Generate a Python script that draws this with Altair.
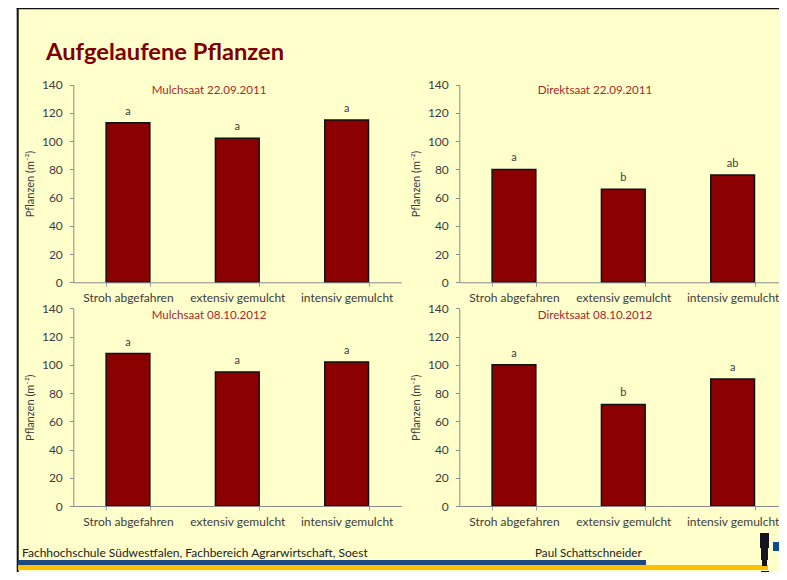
import altair as alt
import pandas as pd

categories = ["Stroh abgefahren", "extensiv gemulcht", "intensiv gemulcht"]
panel_titles = ["Mulchsaat 22.09.2011", "Direktsaat 22.09.2011", "Mulchsaat 08.10.2012", "Direktsaat 08.10.2012"]
values = [[113, 102, 115], [80, 66, 76], [108, 95, 102], [100, 72, 90]]
letters = [["a", "a", "a"], ["a", "b", "ab"], ["a", "a", "a"], ["a", "b", "a"]]
y_ticks = [0, 20, 40, 60, 80, 100, 120, 140]
heading = "Aufgelaufene Pflanzen"
footer_left = "Fachhochschule Südwestfalen, Fachbereich Agrarwirtschaft, Soest"
footer_right = "Paul Schattschneider"
y_title = "Pflanzen (m⁻²)"

W, H = 771, 564
FONT = "Lato"
TEXT = "#3c3c3c"
BAR = "#8B0000"
# panel layout in chart pixels: axis x, zero y, title x, title y
layout = [(65.3, 274.3, 201, 83), (451.3, 274.3, 587, 83), (65.3, 498, 201, 308), (451.3, 498, 587, 308)]
one = pd.DataFrame({"k": [0]})


def box(x, x2, y, y2, color):
    return alt.Chart(one).mark_rect(color=color).encode(
        x=alt.value(x), x2=alt.value(x2), y=alt.value(y), y2=alt.value(y2))


def label(txt, x, y, size, color, align="center", weight="normal"):
    return alt.Chart(pd.DataFrame({"t": [txt]})).mark_text(
        font=FONT, fontSize=size, color=color, align=align, baseline="middle", fontWeight=weight
    ).encode(x=alt.value(x), y=alt.value(y), text="t:N")


layers = [
    box(10, W, 0, H, "#FFFFCC"),
    box(8.7, 10.7, 0, H, "#111111"),
    box(8.7, W, 0, 1.2, "#111111"),
]

for i, (ax, y0, tx, ty) in enumerate(layout):
    df = pd.DataFrame({"cat": categories, "val": values[i], "let": letters[i]})
    xs = alt.Scale(domain=categories, range=[ax, ax + 328], paddingInner=0.6, paddingOuter=0.3)
    ys = alt.Scale(domain=[0, 140], range=[y0, y0 - 197.6], nice=False)
    bars = alt.Chart(df).mark_bar(color=BAR, stroke="#111111", strokeWidth=1.5).encode(
        x=alt.X("cat:N", scale=xs, sort=categories, title=None, axis=alt.Axis(
            orient="bottom", offset=y0 - H, labelAngle=0, tickBand="extent", tickSize=4, labelPadding=6,
            labelFont=FONT, labelFontSize=12, labelColor=TEXT, domainColor="#8a8a8a", tickColor="#a0a0a0",
            grid=False, zindex=1, labelOverlap=False)),
        y=alt.Y("val:Q", scale=ys, title=y_title, axis=alt.Axis(
            orient="left", offset=-ax, values=y_ticks, tickSize=4, labelPadding=7,
            labelFont=FONT, labelFontSize=12, labelColor=TEXT, domainColor="#8a8a8a", tickColor="#8a8a8a",
            titleFont=FONT, titleFontSize=11, titleFontWeight="normal", titleColor=TEXT, titlePadding=6,
            grid=False, zindex=1)),
    )
    text = alt.Chart(df).mark_text(font=FONT, fontSize=11, color=TEXT, baseline="middle", dy=-11).encode(
        x=alt.X("cat:N", scale=xs, sort=categories, axis=None),
        y=alt.Y("val:Q", scale=ys, axis=None),
        text="let:N",
    )
    layers += [bars, text, label(panel_titles[i], tx, ty, 11.6, "#A52A2A")]

layers += [
    label(heading, 38, 45, 23.7, "#7F0000", align="left", weight="bold"),
    label(footer_left, 14, 545, 12, "#222222", align="left"),
    label(footer_right, 527, 545, 11.7, "#222222", align="left"),
    box(10, 638, 552, 557, "#1F497D"),
    box(10, 760, 557, 562, "#FFC000"),
    box(752, 761, 525, 540, "#14141E"),
    box(753, 760, 540, 552, "#14141E"),
    box(754, 759, 552, 558, "#14141E"),
    box(753, 761, 563, H, "#14141E"),
    box(765, W, 534, 543, "#0B4A96"),
]

chart = alt.layer(*layers).resolve_scale(x="independent", y="independent").resolve_axis(
    x="independent", y="independent"
).properties(
    width=W, height=H, padding=0, background="white",
    autosize=alt.AutoSizeParams(type="none"),
).configure_view(stroke=None)

chart.save("out.html", embed_options={"renderer": "svg", "actions": False})
